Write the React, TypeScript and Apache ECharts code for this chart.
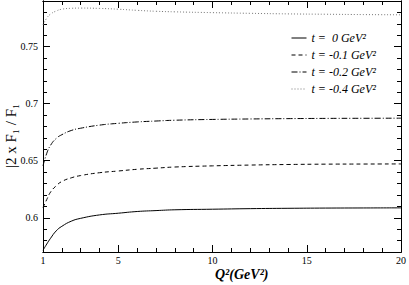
import React, { useEffect, useRef } from "react";
import * as echarts from "echarts";

const xs = [1, 1.2, 1.4, 1.7, 2, 2.5, 3, 4, 5, 6, 7, 8, 10, 12, 14, 16, 18, 20];
const t0 = [0.5715, 0.577, 0.582, 0.5885, 0.5925, 0.597, 0.5995, 0.6025, 0.604, 0.6055, 0.6063, 0.607, 0.6075, 0.608, 0.6083, 0.6085, 0.6086, 0.6087];
const t01 = [0.609, 0.616, 0.6225, 0.628, 0.6318, 0.635, 0.637, 0.6395, 0.641, 0.6425, 0.6435, 0.6445, 0.6455, 0.6462, 0.6467, 0.647, 0.6471, 0.6472];
const t02 = [0.6455, 0.6565, 0.6635, 0.6695, 0.6728, 0.6765, 0.6785, 0.6812, 0.6828, 0.684, 0.6848, 0.6855, 0.6862, 0.6866, 0.6869, 0.6871, 0.6872, 0.6873];
const t04 = [0.769, 0.775, 0.7785, 0.7812, 0.7828, 0.7836, 0.7838, 0.7835, 0.7828, 0.7818, 0.781, 0.7805, 0.7798, 0.7792, 0.7787, 0.7784, 0.7781, 0.7779];
const names = ["t =  0 GeV²", "t = -0.1 GeV²", "t = -0.2 GeV²", "t = -0.4 GeV²"];
const xMajor = [1, 5, 10, 15, 20];
const yMajor = [0.6, 0.65, 0.7, 0.75];

const FONT = "Liberation Serif";

export default function App() {
  const ref = useRef<HTMLDivElement>(null);
  useEffect(() => {
    if (!ref.current) return;
    const chart = echarts.init(ref.current, null, { renderer: "svg" });
    const axisLine = { show: true, lineStyle: { color: "#000", width: 1 } };
    const mkX = (position: string, major: boolean, labels: boolean) => ({
      type: "value",
      min: 1,
      max: 20,
      position,
      ...(major ? {} : { interval: 1 }),
      axisLine,
      splitLine: { show: false },
      axisTick: major
        ? { show: true, inside: true, length: 7, customValues: xMajor, lineStyle: { color: "#000" } }
        : { show: true, inside: true, length: 4, lineStyle: { color: "#000" } },
      axisLabel: labels
        ? { show: true, customValues: xMajor, color: "#000", fontFamily: FONT, fontSize: 10, margin: 3 }
        : { show: false },
    });
    const mkY = (position: string, major: boolean, labels: boolean) => ({
      type: "value",
      min: 0.57,
      max: 0.79,
      position,
      ...(major ? {} : { interval: 0.01 }),
      axisLine,
      splitLine: { show: false },
      axisTick: major
        ? { show: true, inside: true, length: 7, customValues: yMajor, lineStyle: { color: "#000" } }
        : { show: true, inside: true, length: 4, lineStyle: { color: "#000" } },
      axisLabel: labels
        ? { show: true, customValues: yMajor, color: "#000", fontFamily: FONT, fontSize: 10, margin: 5,
            formatter: (v: number) => String(Math.round(v * 100) / 100) }
        : { show: false },
    });
    const styles = [
      { type: "solid" },
      { type: [4, 3] },
      { type: [6, 2, 1, 2] },
      { type: [1, 2], color: "#777" },
    ];
    const datas = [t0, t01, t02, t04];
    chart.setOption({
      animation: false,
      backgroundColor: "#fff",
      grid: { left: 43, right: 7, top: 1, bottom: 33 },
      xAxis: [mkX("bottom", true, true), mkX("bottom", false, false), mkX("top", true, false), mkX("top", false, false)],
      yAxis: [mkY("left", true, true), mkY("left", false, false), mkY("right", true, false), mkY("right", false, false)],
      legend: {
        orient: "vertical",
        left: 286,
        top: 26,
        itemWidth: 15,
        itemHeight: 10,
        itemGap: 3,
        itemStyle: { opacity: 0 },
        lineStyle: { width: 1 },
        textStyle: { fontFamily: FONT, fontStyle: "italic", fontSize: 12, color: "#000", lineHeight: 14 },
        data: names,
      },
      series: datas.map((d, i) => ({
        type: "line",
        name: names[i],
        data: xs.map((x, j) => [x, d[j]]),
        smooth: true,
        symbol: "none",
        lineStyle: { color: "#000", width: 1, ...styles[i] },
        itemStyle: { color: "#000" },
      })),
      graphic: [
        {
          type: "text",
          left: 215,
          top: 267,
          style: { text: "Q²(GeV²)", fontFamily: FONT, fontStyle: "italic", fontWeight: "bold", fontSize: 14, fill: "#000" },
        },
        {
          type: "text",
          x: 3,
          y: 168,
          rotation: Math.PI / 2,
          style: { text: "|2 x F₁ / F₁", fontFamily: FONT, fontSize: 15, fill: "#000", verticalAlign: "top" },
        },
      ],
    });
    return () => chart.dispose();
  }, []);
  return <div ref={ref} style={{ position: "absolute", left: 0, top: 0, width: 409, height: 285, background: "#fff" }} />;
}
